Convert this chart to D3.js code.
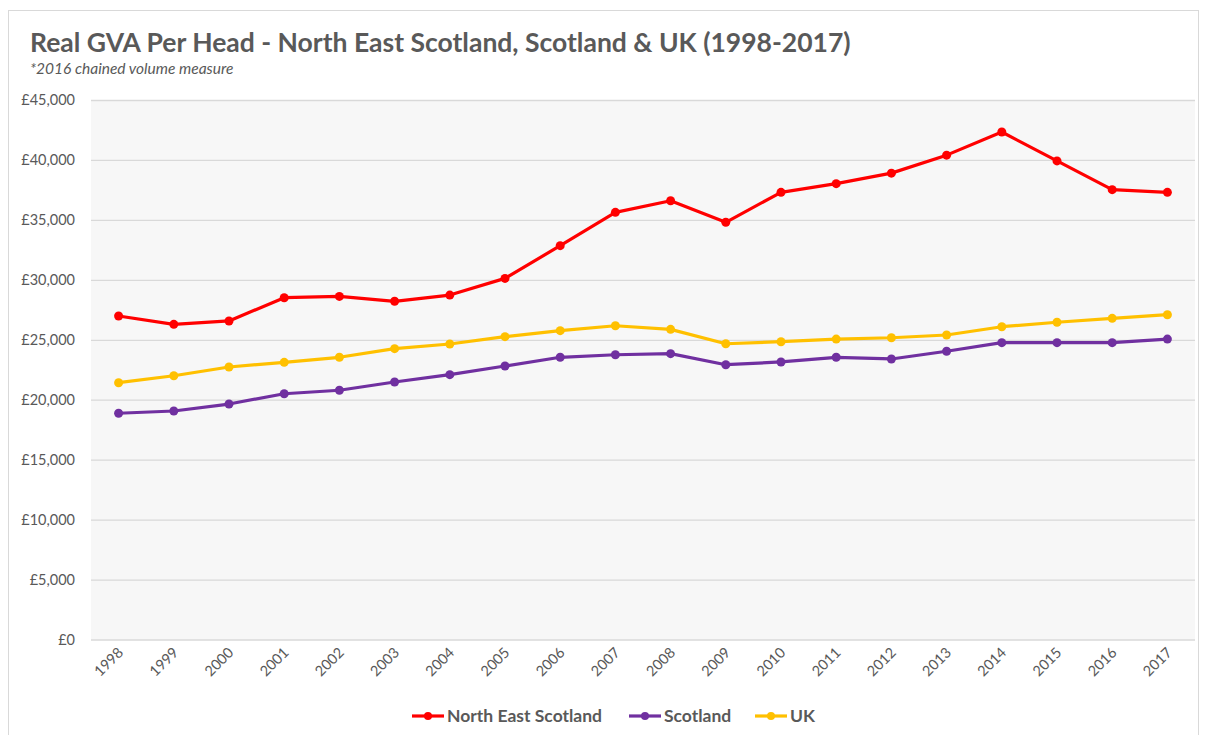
<!DOCTYPE html>
<html>
<head>
<meta charset="utf-8">
<script src="https://cdn.jsdelivr.net/npm/d3@7"></script>
<style>
  body { margin: 0; background: #fff; }
  svg { display: block; font-family: Lato, 'Open Sans', sans-serif; }
</style>
</head>
<body>
<svg id="chart" width="1206" height="735"></svg>
<script>
const years = ['1998', '1999', '2000', '2001', '2002', '2003', '2004', '2005', '2006', '2007',
  '2008', '2009', '2010', '2011', '2012', '2013', '2014', '2015', '2016', '2017']

const northEastScotland = [26980, 26290, 26570, 28510, 28620, 28210, 28730, 30120, 32850, 35630,
  36600, 34800, 37300, 38020, 38900, 40400, 42330, 39920, 37520, 37300]
const scotland = [18870, 19060, 19640, 20500, 20790, 21480, 22090, 22810, 23540, 23750,
  23840, 22920, 23150, 23540, 23400, 24040, 24760, 24760, 24760, 25060]
const uk = [21420, 22000, 22730, 23120, 23540, 24260, 24650, 25260, 25760, 26170,
  25870, 24670, 24840, 25060, 25170, 25400, 26090, 26460, 26790, 27090]

const yTicks = [0, 5000, 10000, 15000, 20000, 25000, 30000, 35000, 40000, 45000]

const series = [
  { name: 'North East Scotland', values: northEastScotland, color: '#ff0000' },
  { name: 'Scotland', values: scotland, color: '#7030a0' },
  { name: 'UK', values: uk, color: '#ffc000' }
]

const textColor = '#595959'
const plot = { left: 91, right: 1195, top: 100, bottom: 639.5 }

const svg = d3.select('#chart')

// chart frame
svg.append('rect')
  .attr('x', 8.5).attr('y', 10.5)
  .attr('width', 1190).attr('height', 740)
  .attr('fill', '#fff')
  .attr('stroke', '#d9d9d9')

svg.append('text')
  .attr('x', 30).attr('y', 52)
  .attr('fill', textColor)
  .style('font-size', '26.5px')
  .style('font-weight', 'bold')
  .text('Real GVA Per Head - North East Scotland, Scotland & UK (1998-2017)')

svg.append('text')
  .attr('x', 30).attr('y', 74)
  .attr('fill', textColor)
  .style('font-size', '15.5px')
  .style('font-style', 'italic')
  .text('*2016 chained volume measure')

const x = d3.scalePoint()
  .domain(years)
  .range([plot.left, plot.right])
  .padding(0.5)

const y = d3.scaleLinear()
  .domain([0, 45000])
  .range([plot.bottom, plot.top])

svg.append('rect')
  .attr('x', plot.left).attr('y', plot.top)
  .attr('width', plot.right - plot.left)
  .attr('height', plot.bottom - plot.top)
  .attr('fill', '#f7f7f7')

// gridlines + y labels
const yAxis = svg.append('g')
  .attr('transform', `translate(${plot.left},0)`)
  .call(d3.axisLeft(y)
    .tickValues(yTicks)
    .tickSize(-(plot.right - plot.left))
    .tickPadding(16)
    .tickFormat(d => '£' + d3.format(',')(d)))

yAxis.select('.domain').remove()
yAxis.selectAll('.tick line').attr('stroke', '#d9d9d9').attr('stroke-width', 1.3)
yAxis.selectAll('.tick text')
  .attr('fill', textColor)
  .style('font-size', '14.5px')
  .style('font-family', 'Lato, sans-serif')

// x labels
const xAxis = svg.append('g')
  .attr('transform', `translate(0,${plot.bottom})`)
  .call(d3.axisBottom(x).tickSize(0).tickPadding(0))

xAxis.select('.domain').remove()
xAxis.selectAll('.tick text')
  .attr('fill', textColor)
  .style('font-size', '14.5px')
  .style('font-family', 'Lato, sans-serif')
  .attr('text-anchor', 'end')
  .attr('dy', null)
  .attr('transform', 'translate(5,14) rotate(-45)')

const line = d3.line()
  .x((d, i) => x(years[i]))
  .y(d => y(d))

const lines = svg.append('g')
  .selectAll('g')
  .data(series)
  .enter().append('g')

lines.append('path')
  .attr('d', d => line(d.values))
  .attr('fill', 'none')
  .attr('stroke', d => d.color)
  .attr('stroke-width', 3.2)
  .attr('stroke-linejoin', 'round')

lines.selectAll('circle')
  .data(d => d.values.map((v, i) => ({ v, i, color: d.color })))
  .enter().append('circle')
  .attr('cx', d => x(years[d.i]))
  .attr('cy', d => y(d.v))
  .attr('r', 4.5)
  .attr('fill', d => d.color)

// legend
const legendX = [412, 629, 755]
const legend = svg.append('g')
  .selectAll('g')
  .data(series)
  .enter().append('g')
  .attr('transform', (d, i) => `translate(${legendX[i]},716)`)

legend.append('line')
  .attr('x1', 0).attr('x2', 32)
  .attr('stroke', d => d.color)
  .attr('stroke-width', 3.2)

legend.append('circle')
  .attr('cx', 16).attr('r', 4)
  .attr('fill', d => d.color)

legend.append('text')
  .attr('x', 35).attr('dy', '0.35em')
  .attr('fill', textColor)
  .style('font-size', '17.5px')
  .style('font-weight', 'bold')
  .text(d => d.name)
</script>
</body>
</html>
